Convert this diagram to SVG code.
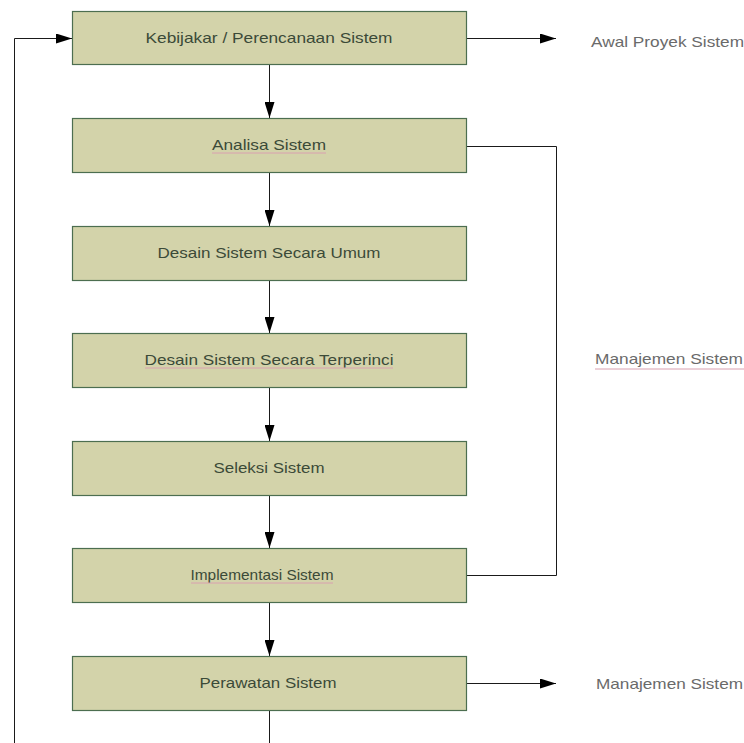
<svg xmlns="http://www.w3.org/2000/svg" width="744" height="743" viewBox="0 0 744 743">
  <style>
    .box { fill: #d3d3aa; stroke: #4c6e50; stroke-width: 1.2; }
    .lbl { font-family: "Liberation Sans", Arial, sans-serif; font-size: 15px; fill: #3b4a38; text-anchor: middle; }
    .out { font-family: "Liberation Sans", Arial, sans-serif; font-size: 15px; fill: #6a6a6a; }
    .wire { fill: none; stroke: #1a1a1a; stroke-width: 1; }
    .sq { stroke: #d9a0b0; stroke-width: 1; }
  </style>
  <defs>
    <marker id="arr" viewBox="0 0 16 10" refX="16" refY="5" markerWidth="16" markerHeight="10" markerUnits="userSpaceOnUse" orient="auto">
      <path d="M0,0 L16,5 L0,10 Z" fill="#000"/>
    </marker>
  </defs>

  <rect width="744" height="743" fill="#ffffff"/>

  <g id="connectors">
    <!-- feedback loop back to planning -->
    <polyline class="wire" points="14.5,743 14.5,38.5 72,38.5" marker-end="url(#arr)"/>
    <!-- main vertical flow -->
    <line class="wire" x1="269.5" y1="65" x2="269.5" y2="118" marker-end="url(#arr)"/>
    <line class="wire" x1="269.5" y1="172" x2="269.5" y2="226" marker-end="url(#arr)"/>
    <line class="wire" x1="269.5" y1="280" x2="269.5" y2="333" marker-end="url(#arr)"/>
    <line class="wire" x1="269.5" y1="388" x2="269.5" y2="441" marker-end="url(#arr)"/>
    <line class="wire" x1="269.5" y1="495" x2="269.5" y2="548" marker-end="url(#arr)"/>
    <line class="wire" x1="269.5" y1="602" x2="269.5" y2="656" marker-end="url(#arr)"/>
    <line class="wire" x1="269.5" y1="710" x2="269.5" y2="743"/>
    <!-- outputs to the right -->
    <line class="wire" x1="466" y1="38.5" x2="556" y2="38.5" marker-end="url(#arr)"/>
    <line class="wire" x1="466" y1="683.5" x2="556" y2="683.5" marker-end="url(#arr)"/>
    <!-- bracket from analysis to implementation -->
    <polyline class="wire" points="466,146.5 556.5,146.5 556.5,575.5 466,575.5"/>
  </g>

  <g id="n-kebijakan">
    <rect class="box" x="72.5" y="11.5" width="394" height="53"/>
    <text class="lbl" x="269" y="43" textLength="247" lengthAdjust="spacingAndGlyphs">Kebijakar / Perencanaan Sistem</text>
  </g>
  <g id="n-analisa">
    <rect class="box" x="72.5" y="118.5" width="394" height="54"/>
    <text class="lbl" x="269" y="150" textLength="114" lengthAdjust="spacingAndGlyphs">Analisa Sistem</text>
    <line class="sq" x1="212" y1="153" x2="326" y2="153"/>
  </g>
  <g id="n-desain-umum">
    <rect class="box" x="72.5" y="226.5" width="394" height="54"/>
    <text class="lbl" x="269" y="258" textLength="223" lengthAdjust="spacingAndGlyphs">Desain Sistem Secara Umum</text>
  </g>
  <g id="n-desain-rinci">
    <rect class="box" x="72.5" y="333.5" width="394" height="54"/>
    <text class="lbl" x="269" y="365" textLength="249" lengthAdjust="spacingAndGlyphs">Desain Sistem Secara Terperinci</text>
    <line class="sq" x1="145" y1="368" x2="393" y2="368"/>
  </g>
  <g id="n-seleksi">
    <rect class="box" x="72.5" y="441.5" width="394" height="54"/>
    <text class="lbl" x="269" y="473" textLength="111" lengthAdjust="spacingAndGlyphs">Seleksi Sistem</text>
  </g>
  <g id="n-implementasi">
    <rect class="box" x="72.5" y="548.5" width="394" height="54"/>
    <text class="lbl" x="262" y="580" textLength="143" lengthAdjust="spacingAndGlyphs">Implementasi Sistem</text>
    <line class="sq" x1="191" y1="583" x2="333" y2="583"/>
  </g>
  <g id="n-perawatan">
    <rect class="box" x="72.5" y="656.5" width="394" height="54"/>
    <text class="lbl" x="268" y="688" textLength="137" lengthAdjust="spacingAndGlyphs">Perawatan Sistem</text>
  </g>

  <g id="n-awal-proyek">
    <text class="out" x="591" y="47" textLength="153" lengthAdjust="spacingAndGlyphs">Awal Proyek Sistem</text>
  </g>
  <g id="n-manajemen-1">
    <text class="out" x="595" y="364" textLength="148" lengthAdjust="spacingAndGlyphs">Manajemen Sistem</text>
    <line class="sq" x1="595" y1="369" x2="744" y2="369"/>
  </g>
  <g id="n-manajemen-2">
    <text class="out" x="596" y="689" textLength="147" lengthAdjust="spacingAndGlyphs">Manajemen Sistem</text>
  </g>
</svg>
